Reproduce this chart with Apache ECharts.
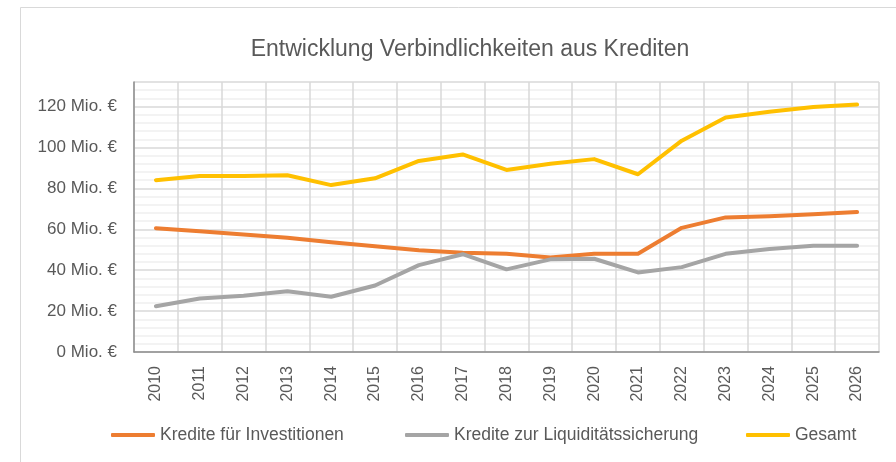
<!DOCTYPE html>
<html>
<head>
<meta charset="utf-8">
<script src="https://cdn.jsdelivr.net/npm/echarts@6/dist/echarts.min.js"></script>
<style>
  html, body { margin: 0; padding: 0; background: #fff; }
  #chart { width: 896px; height: 462px; }
</style>
</head>
<body>
<div id="chart"></div>
<script>
// Jahre (x-Achse)
var years = ['2010','2011','2012','2013','2014','2015','2016','2017','2018',
             '2019','2020','2021','2022','2023','2024','2025','2026'];
// Werte in Mio. €
var investitionen = [60.5, 59, 57.4, 55.9, 53.7, 51.7, 49.8, 48.5, 48, 46.2, 48, 48, 60.7, 65.8, 66.4, 67.4, 68.4];
var liquiditaet   = [22.4, 26.2, 27.5, 29.7, 27, 32.5, 42.5, 47.8, 40.4, 45.3, 45.6, 38.9, 41.5, 48, 50.4, 51.9, 51.9];
var gesamt        = [84, 86, 86, 86.4, 81.6, 84.9, 93.4, 96.6, 89, 92, 94.3, 86.9, 103.3, 114.6, 117.5, 119.8, 121];
var seriesNames = ['Kredite für Investitionen', 'Kredite zur Liquiditätssicherung', 'Gesamt'];

var font = "'Liberation Sans', sans-serif";
var txt = '#595959';

var myChart = echarts.init(document.getElementById('chart'));

function lineSeries(name, data, color) {
    return {
        name: name,
        type: 'line',
        data: data,
        showSymbol: false,
        symbol: 'none',
        lineStyle: { color: color, width: 4, cap: 'round', join: 'round' },
        itemStyle: { color: color }
    };
}

// ein Legendeneintrag je Serie, damit die Abstände wie im Original sind
function legendItem(name, left) {
    return {
        bottom: 13,
        left: left,
        itemWidth: 44,
        itemHeight: 4,
        icon: 'roundRect',
        data: [name],
        textStyle: { fontFamily: font, fontSize: 17.5, color: txt }
    };
}

var option = {
    animation: false,
    backgroundColor: '#fff',
    title: {
        text: 'Entwicklung Verbindlichkeiten aus Krediten',
        left: 465, top: 33, textAlign: 'center',
        textStyle: { fontFamily: font, fontSize: 23, fontWeight: 'normal', color: txt }
    },
    graphic: [{
        type: 'polyline',
        shape: { points: [[20.5, 470], [20.5, 7.5], [900, 7.5]] },
        style: { stroke: '#d9d9d9', lineWidth: 1, fill: null },
        silent: true
    }],
    legend: [
        legendItem(seriesNames[0], 106),
        legendItem(seriesNames[1], 400),
        legendItem(seriesNames[2], 741)
    ],
    grid: { left: 134, right: 17, top: 82, bottom: 110 },
    xAxis: {
        type: 'category',
        data: years,
        boundaryGap: true,
        axisLine: { lineStyle: { color: '#8c8c8c', width: 1.5 } },
        axisTick: { show: false },
        splitLine: { show: true, lineStyle: { color: '#d9d9d9', width: 1.5 } },
        axisLabel: { rotate: 90, margin: 14, fontFamily: font, fontSize: 16, color: txt }
    },
    yAxis: {
        type: 'value',
        min: 0, max: 132, interval: 20,
        axisLine: { show: true, lineStyle: { color: '#8c8c8c', width: 1.5 } },
        axisTick: { show: false },
        splitLine: { lineStyle: { color: '#d9d9d9', width: 1.5 } },
        minorTick: { show: false, splitNumber: 5 },
        minorSplitLine: { show: true, lineStyle: { color: '#f0f0f0', width: 1.5 } },
        axisLabel: {
            margin: 17, fontFamily: font, fontSize: 17, color: txt,
            formatter: function (v) { return v > 120 ? '' : v + ' Mio. €'; }
        }
    },
    series: [
        lineSeries(seriesNames[0], investitionen, '#ED7D31'),
        lineSeries(seriesNames[1], liquiditaet, '#A5A5A5'),
        lineSeries(seriesNames[2], gesamt, '#FFC000')
    ]
};
myChart.setOption(option);
</script>
</body>
</html>
